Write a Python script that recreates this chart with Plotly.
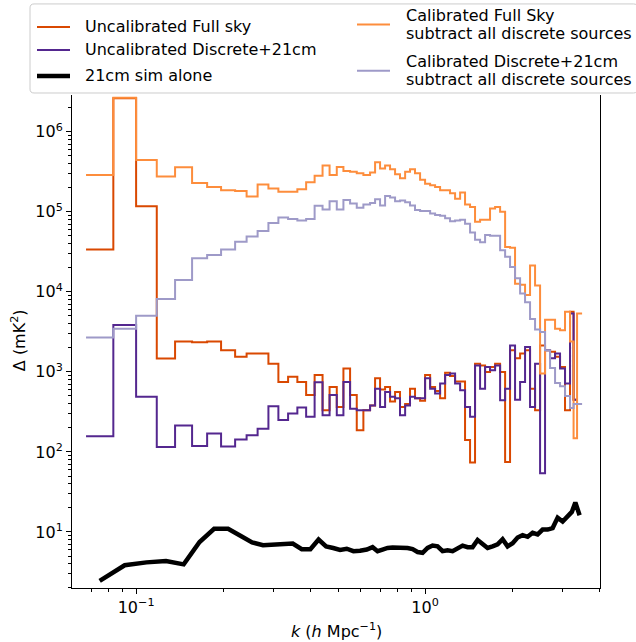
import numpy as np
import plotly.graph_objects as go

# ---------------- data ----------------
k_edges = [0.0671, 0.0834, 0.100, 0.1179, 0.1364, 0.1562, 0.1761, 0.1968, 0.2201, 0.2412,
           0.2633, 0.2870, 0.3107, 0.3357, 0.3614, 0.3876, 0.4147, 0.4418, 0.4672, 0.4948,
           0.5217, 0.5501, 0.5802, 0.6116, 0.6451, 0.6714, 0.6986, 0.7271, 0.7565, 0.7873,
           0.819, 0.853, 0.887, 0.923, 0.961, 1.000, 1.041, 1.083, 1.127, 1.173,
           1.220, 1.270, 1.322, 1.375, 1.431, 1.489, 1.550, 1.613, 1.678, 1.747,
           1.818, 1.892, 1.968, 2.048, 2.132, 2.218, 2.308, 2.402, 2.500, 2.601,
           2.707, 2.817, 2.931, 3.050, 3.174, 3.265, 3.357, 3.494]

k_centers = [0.0748, 0.0913, 0.1086, 0.1269, 0.1461, 0.1658, 0.1862, 0.2081, 0.2304, 0.2520,
             0.2749, 0.2987, 0.3229, 0.3484, 0.3743, 0.4009, 0.4280, 0.4544, 0.4808, 0.5079,
             0.5357, 0.5650, 0.5957, 0.6284, 0.6581, 0.6848, 0.7125, 0.7416, 0.7718, 0.8032,
             0.8359, 0.8699, 0.9053, 0.9420, 0.9803, 1.0201, 1.0616, 1.1048, 1.1497, 1.1964,
             1.2451, 1.2957, 1.3484, 1.4032, 1.4602, 1.5196, 1.5814, 1.6457, 1.7126, 1.7823,
             1.8548, 1.9302, 2.0087, 2.0904, 2.1754, 2.2639, 2.3559, 2.4518, 2.5515, 2.6553,
             2.7633, 2.8756, 2.9926, 3.1143, 3.220, 3.311, 3.425]

uncal_full = [3.39e4, 2.63e6, 1.17e5, 1.47e3, 2.40e3, 2.34e3, 2.40e3, 1.86e3, 1.55e3, 1.70e3,
              1.70e3, 1.26e3, 750, 871, 750, 513, 912, 331, 646, 363,
              1.10e3, 513, 186, 331, 380, 832, 603, 646, 427, 562,
              363, 398, 617, 468, 437, 912, 646, 575, 468, 977,
              891, 759, 759, 141, 74, 1.26e3, 1.20e3, 1.00e3, 1.15e3, 1.26e3,
              1.00e3, 75, 1.86e3, 1.48e3, 1.70e3, 1.86e3, 617, 331, 2.14e3, 1.86e3,
              1.78e3, 1.55e3, 1.15e3, 331, 5.62e3, 447]

uncal_discrete = [157, 3.84e3, 490, 115, 214, 119, 170, 117, 143, 162,
                  195, 372, 251, 302, 359, 275, 741, 288, 513, 288,
                  750, 347, 331, 331, 380, 617, 363, 562, 490, 468,
                  288, 380, 490, 468, 468, 832, 617, 537, 716, 912,
                  955, 716, 589, 363, 275, 1.20e3, 617, 1.15e3, 1.05e3, 1.20e3,
                  443, 617, 2.14e3, 447, 750, 2.04e3, 363, 1.26e3, 54, 1.86e3,
                  1.48e3, 1.70e3, 1.10e3, 716, 5.37e3, 447]

sim_21cm = [2.45, 3.84, 4.17, 4.34, 3.94, 7.50, 10.96, 10.96, 8.91, 7.41,
            6.82, 7.00, 7.08, 7.16, 6.08, 6.08, 8.04, 6.61, 6.31, 5.96,
            6.17, 5.75, 5.82, 6.03, 6.46, 5.75, 6.03, 6.31, 6.38, 6.38,
            6.38, 6.31, 6.10, 5.62, 5.50, 6.31, 6.76, 6.61, 5.75, 5.89,
            5.75, 6.31, 6.76, 6.46, 6.46, 7.94, 7.08, 6.31, 6.61, 7.00,
            8.13, 6.61, 7.24, 8.51, 9.12, 8.71, 9.77, 9.33, 10.7, 10.7,
            11.2, 15.1, 13.5, 15.8, 17.8, 23.4, 16.2]

cal_full = [2.88e5, 2.66e6, 4.43e5, 2.75e5, 3.59e5, 2.29e5, 2.04e5, 1.86e5, 1.82e5, 1.55e5,
            2.19e5, 1.95e5, 1.78e5, 1.78e5, 1.91e5, 2.34e5, 2.82e5, 3.80e5, 2.88e5, 3.63e5,
            3.24e5, 3.16e5, 3.02e5, 2.88e5, 3.09e5, 4.17e5, 3.47e5, 3.80e5, 3.39e5, 2.95e5,
            2.63e5, 3.16e5, 3.39e5, 3.02e5, 2.51e5, 2.24e5, 2.14e5, 2.04e5, 1.86e5, 1.86e5,
            1.70e5, 1.45e5, 1.74e5, 1.23e5, 1.15e5, 7.50e4, 7.94e4, 7.94e4, 1.10e5, 1.15e5,
            1.00e5, 3.63e4, 3.55e4, 1.26e4, 1.23e4, 9.12e3, 2.14e4, 1.20e4, 955, 4.47e3,
            4.47e3, 3.47e3, 3.31e3, 5.62e3, 2.40e3, 148, 5.37e3]

cal_discrete = [2.69e3, 3.47e3, 5.01e3, 8.13e3, 1.41e4, 2.63e4, 2.88e4, 3.39e4, 4.22e4, 4.90e4,
                5.75e4, 7.24e4, 8.51e4, 8.13e4, 7.76e4, 8.13e4, 1.19e5, 1.07e5, 1.35e5, 1.07e5,
                1.40e5, 1.27e5, 1.12e5, 1.23e5, 1.29e5, 1.43e5, 1.20e5, 1.58e5, 1.51e5, 1.35e5,
                1.38e5, 1.32e5, 1.20e5, 1.05e5, 1.02e5, 1.02e5, 9.55e4, 9.12e4, 8.91e4, 8.32e4,
                7.59e4, 7.76e4, 7.94e4, 7.08e4, 5.50e4, 4.47e4, 4.17e4, 5.13e4, 5.01e4, 5.01e4,
                3.31e4, 2.75e4, 2.04e4, 1.48e4, 9.55e3, 7.41e3, 4.57e3, 3.39e3, 3.16e3, 1.86e3,
                1.12e3, 724, 661, 501, 355, 398, 398]

x_tick_vals = [0.1, 1.0]
x_tick_text = ["10<sup>−1</sup>", "10<sup>0</sup>"]
y_tick_vals = [1e1, 1e2, 1e3, 1e4, 1e5, 1e6]
y_tick_text = ["10<sup>1</sup>", "10<sup>2</sup>", "10<sup>3</sup>",
               "10<sup>4</sup>", "10<sup>5</sup>", "10<sup>6</sup>"]

names = ["Uncalibrated Full sky", "Uncalibrated Discrete+21cm", "21cm sim alone",
         "Calibrated Full Sky<br>subtract all discrete sources",
         "Calibrated Discrete+21cm<br>subtract all discrete sources"]
colors = ["#d94801", "#54278f", "#000000", "#fd8d3c", "#9e9ac8"]

# ---------------- figure ----------------
W, H = 636, 642
L, R, T, B = 72, 36, 95, 54.3
PW, PH = W - L - R, H - T - B


def px2x(px):
    return (px - L) / PW


def py2y(py):
    return (H - B - py) / PH


def step_xy(edges, vals):
    n = len(vals)
    return list(edges[:n + 1]), list(vals) + [vals[-1]]


fig = go.Figure()
for vals, name, col in [(uncal_full, names[0], colors[0]),
                        (uncal_discrete, names[1], colors[1])]:
    x, y = step_xy(k_edges, vals)
    fig.add_trace(go.Scatter(x=x, y=y, mode="lines", name=name,
                             line=dict(color=col, width=2, shape="hv")))
fig.add_trace(go.Scatter(x=k_centers, y=sim_21cm, mode="lines", name=names[2],
                         line=dict(color=colors[2], width=4.5)))
for vals, name, col in [(cal_full, names[3], colors[3]),
                        (cal_discrete, names[4], colors[4])]:
    x, y = step_xy(k_edges, vals)
    fig.add_trace(go.Scatter(x=x, y=y, mode="lines", name=name,
                             line=dict(color=col, width=2, shape="hv")))

x_minor = [0.07, 0.08, 0.09, 0.2, 0.3, 0.4, 0.5, 0.6, 0.7, 0.8, 0.9, 2, 3, 4]
y_minor = [m * 10 ** e for e in range(0, 7) for m in range(2, 10)]

font = dict(family="DejaVu Sans", size=16, color="black")

fig.update_layout(
    width=W, height=H,
    margin=dict(l=L, r=R, t=T, b=B, pad=0),
    paper_bgcolor="white", plot_bgcolor="white",
    showlegend=False,
    font=font,
    xaxis=dict(type="log", range=[np.log10(0.06), np.log10(4.03)],
               showline=True, linecolor="black", linewidth=1, mirror=False,
               ticks="outside", ticklen=5, tickwidth=1, tickcolor="black",
               tickvals=x_tick_vals, ticktext=x_tick_text,
               minor=dict(tickvals=x_minor, ticks="outside", ticklen=3,
                          tickwidth=1, tickcolor="black", showgrid=False),
               showgrid=False, zeroline=False, tickfont=font),
    yaxis=dict(type="log", range=[0.30, 6.459],
               showline=True, linecolor="black", linewidth=1, mirror=True,
               ticks="outside", ticklen=5, tickwidth=1, tickcolor="black",
               tickvals=y_tick_vals, ticktext=y_tick_text,
               minor=dict(tickvals=y_minor, ticks="outside", ticklen=3,
                          tickwidth=1, tickcolor="black", showgrid=False),
               showgrid=False, zeroline=False, tickfont=font),
)

# axis titles
fig.add_annotation(text="<i>k</i> (<i>h</i> Mpc<sup>−1</sup>)", xref="paper", yref="paper",
                   x=px2x(336), y=py2y(630), xanchor="center", yanchor="middle",
                   showarrow=False, font=font)
fig.add_annotation(text="Δ (mK<sup>2</sup>)", xref="paper", yref="paper",
                   x=px2x(18), y=py2y(340), xanchor="center", yanchor="middle",
                   textangle=-90, showarrow=False, font=font)

# legend frame (rounded)
x0, x1, y0, y1, r = 30, 637.5, 4, 93, 4
path = (f"M {px2x(x0 + r)},{py2y(y0)} L {px2x(x1 - r)},{py2y(y0)} "
        f"Q {px2x(x1)},{py2y(y0)} {px2x(x1)},{py2y(y0 + r)} "
        f"L {px2x(x1)},{py2y(y1 - r)} Q {px2x(x1)},{py2y(y1)} {px2x(x1 - r)},{py2y(y1)} "
        f"L {px2x(x0 + r)},{py2y(y1)} Q {px2x(x0)},{py2y(y1)} {px2x(x0)},{py2y(y1 - r)} "
        f"L {px2x(x0)},{py2y(y0 + r)} Q {px2x(x0)},{py2y(y0)} {px2x(x0 + r)},{py2y(y0)} Z")
fig.add_shape(type="path", path=path, xref="paper", yref="paper",
              line=dict(color="#cccccc", width=1), fillcolor="rgba(255,255,255,0.8)",
              layer="above")

legend_items = [
    (names[0], colors[0], 2, 37, 70, 83, [27]),
    (names[1], colors[1], 2, 37, 70, 83, [50]),
    (names[2], colors[2], 4.5, 37, 70, 83, [76]),
    (names[3], colors[3], 2, 357, 390, 404, [15.5, 33.7]),
    (names[4], colors[4], 2, 357, 390, 404, [61.7, 79.8]),
]
for name, col, lw, sx0, sx1, tx, rows in legend_items:
    yc = sum(rows) / len(rows)
    fig.add_shape(type="line", xref="paper", yref="paper",
                  x0=px2x(sx0), x1=px2x(sx1), y0=py2y(yc), y1=py2y(yc),
                  line=dict(color=col, width=lw), layer="above")
    for line_text, ry in zip(name.split("<br>"), rows):
        fig.add_annotation(text=line_text, xref="paper", yref="paper",
                           x=px2x(tx), y=py2y(ry), xanchor="left", yanchor="middle",
                           showarrow=False, font=font)

fig.write_html("out.html", config={"displayModeBar": False})
